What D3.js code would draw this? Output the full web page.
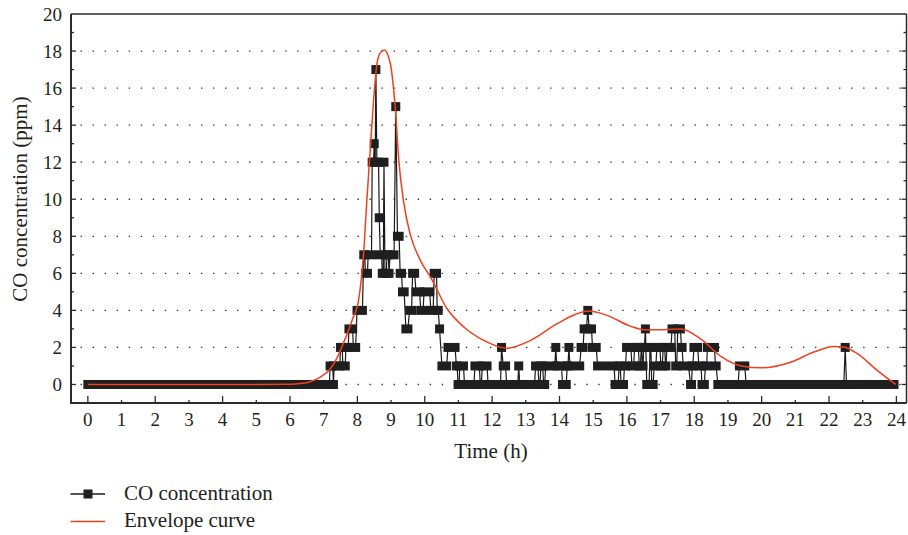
<!DOCTYPE html>
<html>
<head>
<meta charset="utf-8">
<script src="https://cdnjs.cloudflare.com/ajax/libs/d3/7.8.5/d3.min.js"></script>
<style>
  body { margin: 0; background: #fff; }
  svg { display: block; }
  text { font-family: "Liberation Serif", "DejaVu Serif", serif; fill: #231f20; }
</style>
</head>
<body>
<div id="chart"></div>
<script>
// CO readings as runs of equal value: start hour, end hour, ppm
var runStart = [0, 7.19, 7.29, 7.31, 7.50, 7.57, 7.66, 7.75, 7.88, 7.99,
  8.19, 8.24, 8.32, 8.44, 8.50, 8.52, 8.55, 8.58, 8.65, 8.68, 8.74, 8.79, 8.82, 8.88, 8.94, 8.97,
  9.14, 9.19, 9.27, 9.34, 9.44, 9.55, 9.64, 9.74, 9.88, 9.98, 10.18, 10.28, 10.37, 10.44,
  10.51, 10.69, 10.94, 10.99, 11.04, 11.18, 11.49, 11.65, 11.71, 11.88, 12.28, 12.33, 12.43,
  12.79, 12.82, 13.29, 13.39, 13.45, 13.53, 13.59, 13.89, 13.92, 14.09, 14.23, 14.28, 14.31,
  14.64, 14.73, 14.84, 14.88, 14.98, 15.13, 15.65, 15.77, 15.83, 15.93, 15.99, 16.15, 16.23,
  16.37, 16.43, 16.46, 16.50, 16.55, 16.59, 16.69, 16.74, 16.81, 16.89, 17.01, 17.08, 17.15,
  17.19, 17.34, 17.45, 17.51, 17.62, 17.67, 17.89, 17.94, 17.99, 18.14, 18.23, 18.33, 18.39,
  18.63, 18.70, 19.34, 19.54, 22.48, 22.52];
var runEnd = [7.17, 7.27, 7.29, 7.48, 7.55, 7.64, 7.73, 7.86, 7.95, 8.15,
  8.22, 8.30, 8.42, 8.48, 8.50, 8.53, 8.55, 8.63, 8.65, 8.72, 8.77, 8.79, 8.86, 8.92, 8.94, 9.09,
  9.14, 9.24, 9.31, 9.39, 9.50, 9.61, 9.70, 9.85, 9.95, 10.15, 10.25, 10.35, 10.40, 10.44,
  10.65, 10.90, 10.96, 11.02, 11.15, 11.46, 11.62, 11.68, 11.85, 12.25, 12.28, 12.40, 12.76,
  12.79, 13.26, 13.36, 13.42, 13.50, 13.56, 13.86, 13.89, 14.06, 14.20, 14.25, 14.28, 14.60,
  14.70, 14.80, 14.84, 14.95, 15.09, 15.62, 15.74, 15.80, 15.90, 15.96, 16.12, 16.20, 16.34,
  16.40, 16.44, 16.48, 16.52, 16.55, 16.66, 16.71, 16.78, 16.86, 16.98, 17.05, 17.12, 17.16,
  17.31, 17.42, 17.48, 17.59, 17.64, 17.83, 17.92, 17.96, 18.10, 18.20, 18.30, 18.37, 18.60,
  18.65, 19.30, 19.50, 22.44, 22.48, 23.93];
var runValue = [0, 1, 0, 1, 2, 1, 2, 3, 2, 4,
  7, 6, 7, 12, 13, 12, 17, 12, 9, 7, 6, 12, 6, 7, 6, 7,
  15, 8, 6, 5, 3, 4, 6, 5, 4, 5, 4, 6, 4, 3,
  1, 2, 1, 0, 1, 0, 1, 0, 1, 0, 2, 1, 0,
  1, 0, 1, 0, 1, 0, 1, 2, 1, 0, 1, 2, 1,
  2, 3, 4, 3, 2, 1, 0, 1, 0, 1, 2, 1, 2,
  1, 2, 1, 2, 3, 0, 2, 0, 1, 2, 1, 2, 1,
  2, 3, 1, 3, 2, 1, 0, 1, 2, 1, 0, 1, 2,
  1, 0, 1, 0, 2, 0];

// envelope curve
var envTime = [0, 1, 2, 3, 4, 5, 6, 6.3, 6.6, 6.9, 7.2, 7.4, 7.6, 7.85, 8.04, 8.19, 8.28, 8.38,
  8.48, 8.58, 8.68, 8.8, 8.98, 9.13, 9.23, 9.37, 9.57, 9.87, 10.2, 10.66, 11.16, 11.75, 12.44,
  13.14, 13.93, 14.52, 14.87, 15.41, 16.1, 16.5, 17.1, 17.6, 18.2, 18.8, 19.4, 20.0, 20.86,
  21.55, 22.14, 22.44, 22.84, 23.43, 23.98];
var envValue = [0, 0, 0, 0, 0, 0, 0.01, 0.05, 0.15, 0.4, 0.85, 1.45, 2.3, 3.5, 4.6, 7.2, 9.9, 12.6,
  15.3, 17.3, 17.9, 18.05, 17.3, 14.8, 12.1, 9.9, 8.1, 6.7, 5.7, 4.1, 3.1, 2.38, 1.96,
  2.38, 3.28, 3.82, 3.96, 3.73, 3.15, 2.96, 2.96, 3.0, 2.45, 1.5, 1.0, 0.9, 1.2,
  1.75, 2.05, 2.02, 1.66, 0.76, 0];

var xTickLabels = d3.range(0, 25);
var yTickLabels = d3.range(0, 21, 2);
var legendLabels = ['CO concentration', 'Envelope curve'];

var W = 908, H = 535;
var pl = 71, pr = 906.5, pt = 14, pb = 403;
var ink = '#2b2b2b', red = '#f0401e';

var svg = d3.select('#chart').append('svg').attr('width', W).attr('height', H);

var x = d3.scaleLinear().domain([-0.5, 24.3]).range([pl, pr]);
var y = d3.scaleLinear().domain([-1, 20]).range([pb, pt]);

// dotted grid
svg.append('g').selectAll('line')
  .data(yTickLabels.filter(function(d) { return d < 20; }))
  .enter().append('line')
    .attr('x1', pl).attr('x2', pr)
    .attr('y1', function(d) { return y(d); })
    .attr('y2', function(d) { return y(d); })
    .attr('stroke', '#333').attr('stroke-width', 1.3)
    .attr('stroke-dasharray', '1.4,10.64').attr('stroke-dashoffset', 2.5);

// CO series: connecting line then run markers
var pts = [];
runStart.forEach(function(s, i) {
  pts.push({t: s, v: runValue[i]});
  pts.push({t: runEnd[i], v: runValue[i]});
});
svg.append('path')
  .attr('d', d3.line().x(function(d) { return x(d.t); }).y(function(d) { return y(d.v); })(pts))
  .attr('fill', 'none').attr('stroke', '#1a1a1a').attr('stroke-width', 1.2);

var ms = 9;
svg.append('g').selectAll('rect')
  .data(runStart.map(function(s, i) { return {s: s, e: runEnd[i], v: runValue[i]}; }))
  .enter().append('rect')
    .attr('x', function(d) { return x(d.s) - ms / 2; })
    .attr('y', function(d) { return y(d.v) - ms / 2; })
    .attr('width', function(d) { return x(d.e) - x(d.s) + ms; })
    .attr('height', ms)
    .attr('fill', '#1f1f1f');

// envelope
svg.append('path')
  .attr('d', d3.line().curve(d3.curveMonotoneX)
    .x(function(d, i) { return x(envTime[i]); })
    .y(function(d) { return y(d); })(envValue))
  .attr('fill', 'none').attr('stroke', red).attr('stroke-width', 1.5);

// frame
var frame = svg.append('g').attr('stroke', ink).attr('fill', 'none');
frame.append('line').attr('x1', pl).attr('x2', pl).attr('y1', pt).attr('y2', pb + 1).attr('stroke-width', 2);
frame.append('line').attr('x1', pl).attr('x2', pr).attr('y1', pb).attr('y2', pb).attr('stroke-width', 2);
frame.append('line').attr('x1', pl).attr('x2', pr).attr('y1', pt).attr('y2', pt).attr('stroke-width', 1.5);
frame.append('line').attr('x1', pr).attr('x2', pr).attr('y1', pt).attr('y2', pb).attr('stroke-width', 1.5);

// ticks (inward), major on even, minor on odd
var ty = d3.range(0, 20);
frame.selectAll('.yt').data(ty).enter().append('line')
  .attr('x1', pl).attr('x2', function(d) { return pl + (d % 2 ? 3 : 5); })
  .attr('y1', function(d) { return y(d); }).attr('y2', function(d) { return y(d); })
  .attr('stroke-width', 1.3);
frame.selectAll('.yr').data(ty).enter().append('line')
  .attr('x1', pr).attr('x2', function(d) { return pr - (d % 2 ? 3 : 5); })
  .attr('y1', function(d) { return y(d); }).attr('y2', function(d) { return y(d); })
  .attr('stroke-width', 1.3);
frame.selectAll('.xt').data(xTickLabels).enter().append('line')
  .attr('x1', function(d) { return x(d); }).attr('x2', function(d) { return x(d); })
  .attr('y1', pb).attr('y2', function(d) { return pb - (d % 2 ? 3 : 7); })
  .attr('stroke-width', 1.3);

// tick labels
svg.append('g').selectAll('text').data(yTickLabels).enter().append('text')
  .attr('x', 62).attr('y', function(d) { return y(d) + 6.5; })
  .attr('text-anchor', 'end').attr('font-size', 19)
  .text(function(d) { return d; });
svg.append('g').selectAll('text').data(xTickLabels).enter().append('text')
  .attr('x', function(d) { return x(d); }).attr('y', 426)
  .attr('text-anchor', 'middle').attr('font-size', 19)
  .text(function(d) { return d; });

// axis titles
svg.append('text').attr('x', 491).attr('y', 458).attr('text-anchor', 'middle')
  .attr('font-size', 21).text('Time (h)');
svg.append('text').attr('transform', 'translate(26.5,199) rotate(-90)')
  .attr('text-anchor', 'middle').attr('font-size', 21).text('CO concentration (ppm)');

// legend
var lg = svg.append('g');
lg.append('line').attr('x1', 70.5).attr('x2', 105).attr('y1', 494).attr('y2', 494)
  .attr('stroke', '#1a1a1a').attr('stroke-width', 1.5);
lg.append('rect').attr('x', 88 - ms / 2).attr('y', 494 - ms / 2).attr('width', ms).attr('height', ms)
  .attr('fill', '#1f1f1f');
lg.append('line').attr('x1', 70.5).attr('x2', 105).attr('y1', 521.5).attr('y2', 521.5)
  .attr('stroke', red).attr('stroke-width', 1.5);
lg.selectAll('text').data(legendLabels).enter().append('text')
  .attr('x', 124).attr('y', function(d, i) { return 500 + i * 27; })
  .attr('font-size', 21).text(function(d) { return d; });
</script>
</body>
</html>
